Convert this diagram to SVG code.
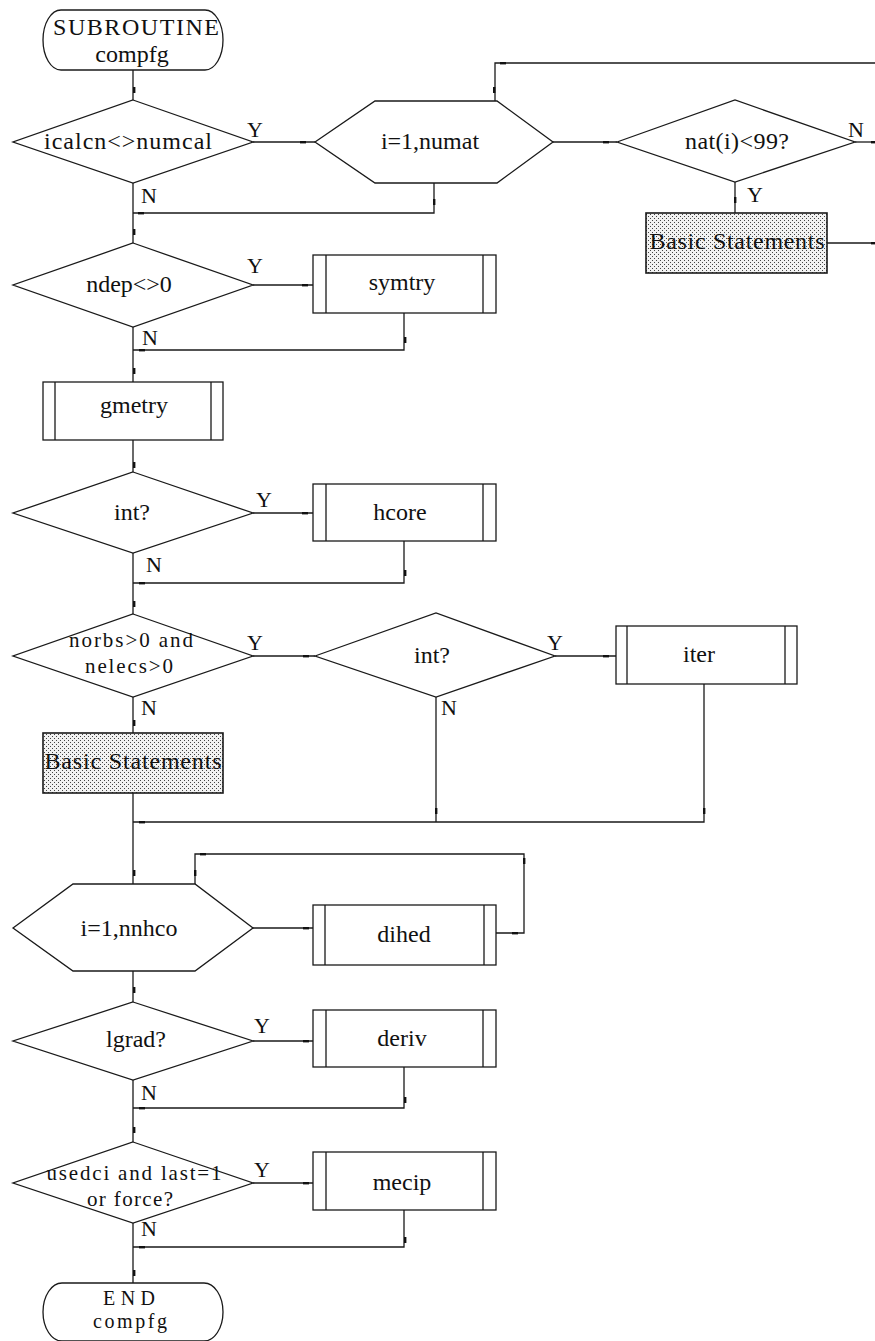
<svg xmlns="http://www.w3.org/2000/svg" width="875" height="1341" viewBox="0 0 875 1341">
  <defs>
    <style>
      .shape { fill: #fff; stroke: #1a1a1a; stroke-width: 1.3; }
      .stip { fill: url(#dots); stroke: #1a1a1a; stroke-width: 1.6; }
      .ln { fill: none; stroke: #1a1a1a; stroke-width: 1.3; }
      .tick { fill: #111; }
      text { font-family: "Liberation Serif", "Times New Roman", serif; font-size: 24px; fill: #111; text-anchor: middle; }
      text.two { font-size: 21px; }
      text.term { font-size: 20px; }
      text.yn { font-size: 22px; text-anchor: start; }
    </style>
    <pattern id="dots" width="4" height="4" patternUnits="userSpaceOnUse">
      <rect width="4" height="4" fill="#f2f2f2"/>
      <rect x="0" y="0" width="1" height="1" fill="#444"/>
      <rect x="2" y="2" width="1" height="1" fill="#444"/>
    </pattern>
    <rect id="tv" class="tick" width="2.4" height="6"/>
    <rect id="th" class="tick" width="6" height="2.4"/>
  </defs>

  <rect width="875" height="1341" fill="#fff"/>

  <!-- connectors -->
  <g id="connectors">
    <path class="ln" d="M133,70 V100"/>
    <path class="ln" d="M253,142 H315"/>
    <path class="ln" d="M553,142 H617"/>
    <path class="ln" d="M855,142 H875"/>
    <path class="ln" d="M735,182 V213"/>
    <path class="ln" d="M827,243 H875"/>
    <path class="ln" d="M495,101 V63 H875"/>
    <path class="ln" d="M434,183 V213 H133"/>
    <path class="ln" d="M133,183 V243"/>
    <path class="ln" d="M253,285 H313"/>
    <path class="ln" d="M404,313 V350 H133"/>
    <path class="ln" d="M133,327 V382"/>
    <path class="ln" d="M133,440 V472"/>
    <path class="ln" d="M253,513 H313"/>
    <path class="ln" d="M404,541 V583 H133"/>
    <path class="ln" d="M133,553 V614"/>
    <path class="ln" d="M253,656 H315"/>
    <path class="ln" d="M555,656 H616"/>
    <path class="ln" d="M133,697 V733"/>
    <path class="ln" d="M436,697 V822"/>
    <path class="ln" d="M704,684 V822 H133"/>
    <path class="ln" d="M133,793 V884"/>
    <path class="ln" d="M253,928 H313"/>
    <path class="ln" d="M496,933 H524 V854 H195 V884"/>
    <path class="ln" d="M133,971 V1002"/>
    <path class="ln" d="M253,1041 H313"/>
    <path class="ln" d="M404,1067 V1108 H133"/>
    <path class="ln" d="M133,1080 V1142"/>
    <path class="ln" d="M253,1183 H313"/>
    <path class="ln" d="M404,1210 V1247 H133"/>
    <path class="ln" d="M133,1223 V1283"/>

    <!-- small flow marks on the lines -->
    <use href="#tv" x="133" y="87"/>
    <use href="#tv" x="493" y="87"/>
    <use href="#tv" x="433" y="199"/>
    <use href="#tv" x="734" y="197"/>
    <use href="#tv" x="133" y="229"/>
    <use href="#tv" x="404" y="337"/>
    <use href="#tv" x="133" y="368"/>
    <use href="#tv" x="133" y="462"/>
    <use href="#tv" x="404" y="570"/>
    <use href="#tv" x="133" y="601"/>
    <use href="#tv" x="133" y="720"/>
    <use href="#tv" x="435" y="808"/>
    <use href="#tv" x="703" y="808"/>
    <use href="#tv" x="133" y="870"/>
    <use href="#tv" x="194" y="870"/>
    <use href="#tv" x="523" y="858"/>
    <use href="#tv" x="133" y="987"/>
    <use href="#tv" x="404" y="1097"/>
    <use href="#tv" x="133" y="1127"/>
    <use href="#tv" x="404" y="1237"/>
    <use href="#tv" x="133" y="1270"/>

    <use href="#th" x="500" y="62"/>
    <use href="#th" x="300" y="141"/>
    <use href="#th" x="603" y="141"/>
    <use href="#th" x="871" y="141"/>
    <use href="#th" x="871" y="242"/>
    <use href="#th" x="138" y="212"/>
    <use href="#th" x="302" y="284"/>
    <use href="#th" x="139" y="349"/>
    <use href="#th" x="302" y="512"/>
    <use href="#th" x="139" y="582"/>
    <use href="#th" x="303" y="655"/>
    <use href="#th" x="603" y="655"/>
    <use href="#th" x="139" y="821"/>
    <use href="#th" x="200" y="853"/>
    <use href="#th" x="303" y="927"/>
    <use href="#th" x="512" y="932"/>
    <use href="#th" x="303" y="1040"/>
    <use href="#th" x="139" y="1107"/>
    <use href="#th" x="303" y="1182"/>
    <use href="#th" x="139" y="1246"/>
  </g>

  <!-- nodes -->
  <g id="start">
    <rect class="shape" x="43" y="10" width="180" height="60" rx="18" ry="30"/>
    <text x="136" y="35" textLength="166">SUBROUTINE</text>
    <text x="132" y="62">compfg</text>
  </g>

  <g id="if-icalcn">
    <polygon class="shape" points="133,100 253,142 133,183 13,142"/>
    <text x="128" y="149" textLength="168">icalcn&lt;&gt;numcal</text>
    <text class="yn" x="247" y="137">Y</text>
    <text class="yn" x="141" y="203">N</text>
  </g>

  <g id="loop-numat">
    <polygon class="shape" points="315,142 375,101 497,101 553,142 497,183 375,183"/>
    <text x="430" y="149">i=1,numat</text>
  </g>

  <g id="if-nat">
    <polygon class="shape" points="617,142 735,100 855,142 735,182"/>
    <text x="737" y="149" textLength="104">nat(i)&lt;99?</text>
    <text class="yn" x="848" y="137">N</text>
    <text class="yn" x="747" y="202">Y</text>
  </g>

  <g id="basic-1">
    <rect class="stip" x="646" y="213" width="181" height="60"/>
    <text x="737" y="249" textLength="175">Basic Statements</text>
  </g>

  <g id="if-ndep">
    <polygon class="shape" points="133,243 253,285 133,327 13,285"/>
    <text x="129" y="292">ndep&lt;&gt;0</text>
    <text class="yn" x="247" y="273">Y</text>
    <text class="yn" x="142" y="345">N</text>
  </g>

  <g id="symtry">
    <rect class="shape" x="313" y="255" width="183" height="58"/>
    <path class="ln" d="M326,255 V313 M483,255 V313"/>
    <text x="402" y="290">symtry</text>
  </g>

  <g id="gmetry">
    <rect class="shape" x="43" y="382" width="180" height="58"/>
    <path class="ln" d="M55,382 V440 M211,382 V440"/>
    <text x="134" y="413">gmetry</text>
  </g>

  <g id="if-int-1">
    <polygon class="shape" points="133,472 253,513 133,553 13,513"/>
    <text x="132" y="520">int?</text>
    <text class="yn" x="256" y="507">Y</text>
    <text class="yn" x="146" y="572">N</text>
  </g>

  <g id="hcore">
    <rect class="shape" x="313" y="484" width="183" height="57"/>
    <path class="ln" d="M326,484 V541 M483,484 V541"/>
    <text x="400" y="520">hcore</text>
  </g>

  <g id="if-norbs">
    <polygon class="shape" points="133,614 253,656 133,697 13,656"/>
    <text class="two" x="131" y="647" textLength="124">norbs&gt;0 and</text>
    <text class="two" x="129" y="673" textLength="88">nelecs&gt;0</text>
    <text class="yn" x="247" y="650">Y</text>
    <text class="yn" x="141" y="715">N</text>
  </g>

  <g id="if-int-2">
    <polygon class="shape" points="315,656 436,613 555,656 436,697"/>
    <text x="432" y="663">int?</text>
    <text class="yn" x="547" y="650">Y</text>
    <text class="yn" x="441" y="715">N</text>
  </g>

  <g id="iter">
    <rect class="shape" x="616" y="626" width="181" height="58"/>
    <path class="ln" d="M627,626 V684 M785,626 V684"/>
    <text x="699" y="662">iter</text>
  </g>

  <g id="basic-2">
    <rect class="stip" x="43" y="733" width="180" height="60"/>
    <text x="133" y="769" textLength="177">Basic Statements</text>
  </g>

  <g id="loop-nnhco">
    <polygon class="shape" points="13,928 73,884 195,884 253,928 195,971 73,971"/>
    <text x="129" y="936">i=1,nnhco</text>
  </g>

  <g id="dihed">
    <rect class="shape" x="313" y="905" width="183" height="60"/>
    <path class="ln" d="M325,905 V965 M484,905 V965"/>
    <text x="404" y="942">dihed</text>
  </g>

  <g id="if-lgrad">
    <polygon class="shape" points="133,1002 253,1041 133,1080 13,1041"/>
    <text x="136" y="1047">lgrad?</text>
    <text class="yn" x="254" y="1033">Y</text>
    <text class="yn" x="141" y="1100">N</text>
  </g>

  <g id="deriv">
    <rect class="shape" x="313" y="1010" width="183" height="57"/>
    <path class="ln" d="M326,1010 V1067 M483,1010 V1067"/>
    <text x="402" y="1046">deriv</text>
  </g>

  <g id="if-usedci">
    <polygon class="shape" points="133,1142 253,1183 133,1223 13,1183"/>
    <text class="two" x="134" y="1180" textLength="175">usedci and last=1</text>
    <text class="two" x="130" y="1206" textLength="86">or force?</text>
    <text class="yn" x="254" y="1177">Y</text>
    <text class="yn" x="141" y="1236">N</text>
  </g>

  <g id="mecip">
    <rect class="shape" x="313" y="1152" width="183" height="58"/>
    <path class="ln" d="M326,1152 V1210 M483,1152 V1210"/>
    <text x="402" y="1190">mecip</text>
  </g>

  <g id="end">
    <rect class="shape" x="43" y="1283" width="180" height="58" rx="19" ry="29"/>
    <text class="term" x="129" y="1305" textLength="52">END</text>
    <text class="term" x="130" y="1328" textLength="74">compfg</text>
  </g>
</svg>
